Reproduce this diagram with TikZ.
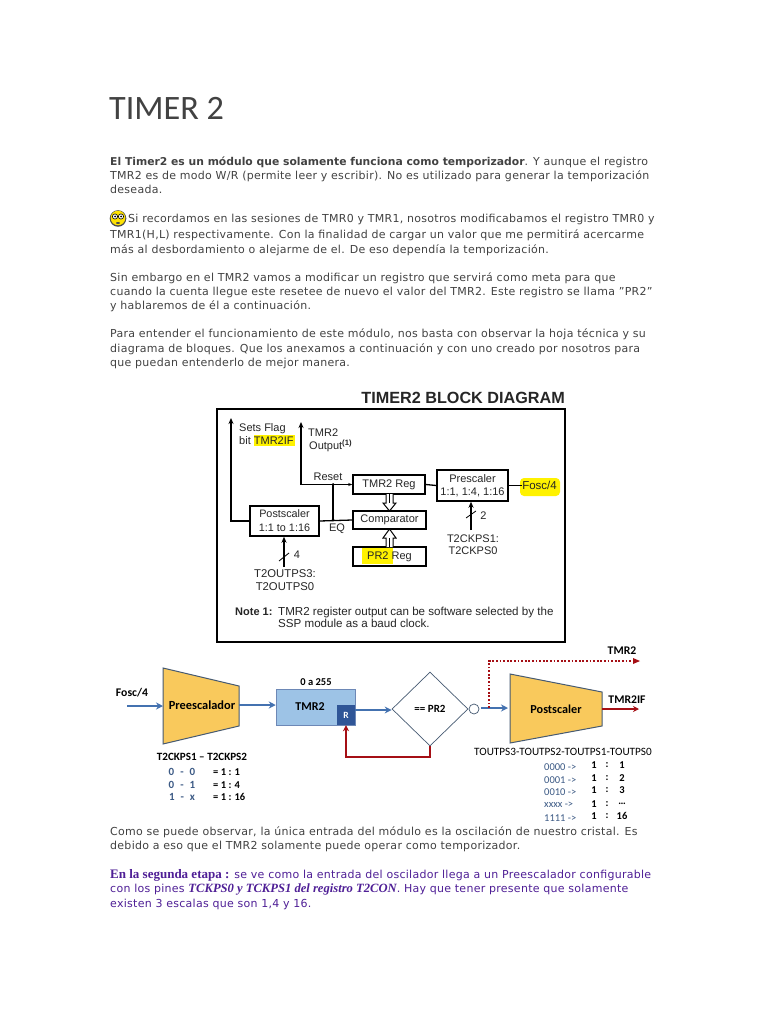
\documentclass[tikz,border=0pt]{standalone}
\usepackage{fontspec}
\setmainfont{DejaVu Sans}[LetterSpace=2.5,BoldFeatures={LetterSpace=0}]
\newfontfamily\headfont{Carlito}
\newfontfamily\dgfont{Liberation Sans}
\newfontfamily\lowfont{Carlito}
\newfontfamily\purpserif{Liberation Serif}
\definecolor{bodyc}{HTML}{424242}
\definecolor{purp}{HTML}{4F1F96}
\definecolor{hl}{HTML}{FFF200}
\definecolor{dgtext}{HTML}{262626}
\definecolor{trapf}{HTML}{F9C95C}
\definecolor{trapd}{HTML}{465A72}
\definecolor{bluea}{HTML}{4472B0}
\definecolor{tmrf}{HTML}{9DC3E6}
\definecolor{rf}{HTML}{2F5597}
\definecolor{redw}{HTML}{A50F15}
\definecolor{valb}{HTML}{3C5A85}
\usetikzlibrary{arrows.meta,shapes.geometric,calc}
\tikzset{
  x=1pt,y=-1pt,
  line/.style={anchor=base west,inner sep=0pt,yshift=-0.8pt,font=\fontsize{11}{12}\selectfont,text=bodyc},
  dg/.style={inner sep=0pt,font=\dgfont\fontsize{11}{12}\selectfont,text=dgtext},
  dgbox/.style={draw=black,line width=1.5pt,inner sep=0pt,font=\dgfont\fontsize{11}{12}\selectfont,text=dgtext,align=center},
  dgwire/.style={draw=black,line width=1.3pt},
  dgarrow/.style={draw=black,line width=1.3pt,-{Stealth[length=6pt,width=5pt]}},
  hollow/.style={draw=black,line width=1pt,fill=white},
  lowt/.style={inner sep=0pt,font=\lowfont\bfseries\fontsize{11.7}{12}\selectfont,text=black},
  vals/.style={inner sep=0pt,font=\lowfont\bfseries\fontsize{11}{12}\selectfont,text=valb},
  ratio/.style={inner sep=0pt,font=\lowfont\bfseries\fontsize{10.5}{12}\selectfont,text=black},
  trap/.style={draw=trapd,line width=1pt,fill=trapf},
  bluearrow/.style={draw=bluea,line width=2.2pt,-{Stealth[length=7pt,width=7pt]}},
  redwire/.style={draw=redw,line width=2pt},
}
\begin{document}
\begin{tikzpicture}
\useasboundingbox (0,0) rectangle (768,1024);
\fill[white] (0,0) rectangle (768,1024);

% --- page text
\node[anchor=base west,inner sep=0pt,font=\headfont\fontsize{34.2}{36}\selectfont,text=bodyc] (title) at (109,120) {TIMER 2};
\node[line] (l1) at (110,165) {{\fontsize{10.78}{12}\selectfont\textbf{El Timer2 es un módulo que solamente funciona como temporizador}}. Y aunque el registro};
\node[line] (l2) at (110,179) {TMR2 es de modo W/R (permite leer y escribir). No es utilizado para generar la temporización};
\node[line] (l3) at (110,193) {deseada.};
\node[line] (l4) at (128,222) {Si recordamos en las sesiones de TMR0 y TMR1, nosotros modificabamos el registro TMR0 y};
\node[line] (l5) at (110,238) {TMR1(H,L) respectivamente. Con la finalidad de cargar un valor que me permitirá acercarme};
\node[line] (l6) at (110,253) {más al desbordamiento o alejarme de el. De eso dependía la temporización.};
\node[line] (l7) at (110,281) {Sin embargo en el TMR2 vamos a modificar un registro que servirá como meta para que};
\node[line] (l8) at (110,295) {cuando la cuenta llegue este resetee de nuevo el valor del TMR2. Este registro se llama "PR2"};
\node[line] (l9) at (110,309) {y hablaremos de él a continuación.};
\node[line] (l10) at (110,337) {Para entender el funcionamiento de este módulo, nos basta con observar la hoja técnica y su};
\node[line] (l11) at (110,352) {diagrama de bloques. Que los anexamos a continuación y con uno creado por nosotros para};
\node[line] (l12) at (110,366) {que puedan entenderlo de mejor manera.};
\node[line] (l13) at (110,835) {Como se puede observar, la única entrada del módulo es la oscilación de nuestro cristal. Es};
\node[line] (l14) at (110,849) {debido a eso que el TMR2 solamente puede operar como temporizador.};
\node[line,text=purp] (l15) at (110,878) {{\purpserif\bfseries\fontsize{13}{12}\selectfont En la segunda etapa :} se ve como la entrada del oscilador llega a un Preescalador configurable};
\node[line,text=purp] (l16) at (110,892) {con los pines {\purpserif\itshape\bfseries\fontsize{12.6}{12}\selectfont TCKPS0 y TCKPS1 del registro T2CON}. Hay que tener presente que solamente};
\node[line,text=purp] (l17) at (110,907) {existen 3 escalas que son 1,4 y 16.};

% --- smiley
\fill[black!70] (118,218.5) circle (8.3pt);
\fill[yellow!85!orange] (118,218) circle (7.3pt);
\fill[white] (115,216.5) circle (2.6pt) (121,216.5) circle (2.6pt);
\draw[black,line width=.6pt] (115,216.5) circle (2.6pt) (121,216.5) circle (2.6pt);
\fill[black] (115,216.5) circle (1pt) (121,216.5) circle (1pt);
\fill[black!70] (118,223) ellipse (2pt and 1pt);

% --- block diagram
\node[anchor=base east,inner sep=0pt,font=\dgfont\bfseries\fontsize{16.2}{17}\selectfont,text=dgtext] (bdtitle) at (565,403.5) {TIMER2 BLOCK DIAGRAM};
\node[draw=black,line width=1.8pt,minimum width=348pt,minimum height=233pt,inner sep=0pt] (frame) at (391,525.5) {};
\fill[hl] (254,435) rectangle (295,446);
\fill[hl] (362,548) rectangle (393,564);
\fill[hl,rounded corners=4pt] (520,478) rectangle (560,496);

\node[dgbox,minimum width=72pt,minimum height=19pt] (tmrreg) at (389,484.5) {TMR2 Reg};
\node[dgbox,minimum width=71pt,minimum height=31pt,font=\dgfont\fontsize{11}{13}\selectfont] (pres) at (472.5,485.5) {Prescaler\\1:1, 1:4, 1:16};
\node[dgbox,minimum width=69pt,minimum height=30pt,font=\dgfont\fontsize{10.8}{14}\selectfont] (posts) at (284.5,521) {Postscaler\\1:1 to 1:16};
\node[dgbox,minimum width=73pt,minimum height=18pt] (comp) at (389.5,520) {Comparator};
\node[draw=black,line width=1.5pt,minimum width=73pt,minimum height=19pt,inner sep=0pt] (prreg) at (389.5,556.5) {};
\node[dg] (prtxt) at (389.5,556.5) {PR2 Reg};

\node[dg,anchor=base west] (setsa) at (239,431) {Sets Flag};
\node[dg,anchor=base west] (setsb) at (239,444) {bit TMR2IF};
\node[dg,anchor=base west] (outa) at (308,436) {TMR2};
\node[dg,anchor=base west] (outb) at (309,449) {Output\textsuperscript{\textbf{(1)}}};
\node[dg] (reset) at (328,477) {Reset};
\node[dg] (eq) at (337,528.5) {EQ};
\node[dg,font=\dgfont\fontsize{11.5}{12}\selectfont] (fosc) at (539.5,485.5) {Fosc/4};
\node[dg] (n2) at (483.5,515.5) {2};
\node[dg] (n4) at (297,554.5) {4};
\node[dg,align=center,font=\dgfont\fontsize{11}{12.5}\selectfont] (ck) at (473,544.5) {T2CKPS1:\\T2CKPS0};
\node[dg,align=center,font=\dgfont\fontsize{11.3}{12.5}\selectfont] (op) at (285,580) {T2OUTPS3:\\T2OUTPS0};
\node[dg,anchor=base west,font=\dgfont\bfseries\fontsize{11}{12}\selectfont] (note) at (235,615) {Note 1:};
\node[dg,anchor=base west,font=\dgfont\fontsize{11.6}{12}\selectfont] (notea) at (278,615) {TMR2 register output can be software selected by the};
\node[dg,anchor=base west,font=\dgfont\fontsize{11.6}{12}\selectfont] (noteb) at (278,627.5) {SSP module as a baud clock.};

\coordinate (flagtop) at (231,418);
\coordinate (outtop) at (301,422);
\draw[dgarrow] (posts.west) -- (posts.west -| flagtop) -- (flagtop);
\draw[dgwire] (comp.west) -- (posts.east);
\coordinate (jb) at (333,520);
\coordinate (jt) at (333,484.5);
\draw[dgwire] (jb) -- (jt);
\fill[black] (jb) circle (1.5pt) (jt) circle (1.5pt);
\draw[dgwire,{Stealth[length=6pt,width=5pt]}-] (outtop) -- (outtop |- jt) -- (jt);
\draw[line width=1pt,-{Stealth[length=4pt,width=3pt]}] (jt) -- (tmrreg.west);
\draw[dgwire] (tmrreg.east) -- (pres.west);
\draw[dgwire] (pres.east) -- (fosc.west);

\coordinate (ckb) at (471,530);
\draw[dgarrow] (ckb) -- (ckb |- pres.south);
\draw[line width=.8pt] (466,518) -- (476,511);
\coordinate (opb) at (284,567);
\draw[dgarrow] (opb) -- (opb |- posts.south);
\draw[line width=.8pt] (279,561) -- (289,553);

% hollow double arrows
\draw[hollow] (386,494) -- (386,503) -- (383,503) -- (389.5,511) -- (396,503) -- (393,503) -- (393,494);
\draw[line width=1pt] (389.5,494) -- (389.5,503);
\draw[hollow] (386,547) -- (386,538) -- (383,538) -- (389.5,529) -- (396,538) -- (393,538) -- (393,547);
\draw[line width=1pt] (389.5,547) -- (389.5,538);

% --- lower diagram
\draw[trap] (163,668) coordinate (ptl) -- (239,686) coordinate (ptr) -- (239,726) coordinate (pbr) -- (163,744) coordinate (pbl) -- cycle;
\node[lowt,font=\lowfont\bfseries\fontsize{12.4}{12}\selectfont] (pretxt) at (202,705) {Preescalador};
\coordinate (prein) at (163,706);
\coordinate (preout) at (239,705);
\node[lowt] (fosclow) at (132,693) {Fosc/4};
\coordinate (foscs) at (127,706);
\draw[bluearrow] (foscs) -- (prein);

\node[draw=rf!70,line width=.5pt,fill=tmrf,minimum width=79pt,minimum height=36pt,inner sep=0pt] (tmr) at (315.5,707) {};
\node[lowt,font=\lowfont\bfseries\fontsize{12}{12}\selectfont] (tmrtxt) at (310,706.5) {TMR2};
\node[fill=rf,minimum width=18pt,minimum height=20pt,inner sep=0pt,text=white,font=\lowfont\bfseries\fontsize{9.5}{12}\selectfont] (rbox) at (346,715) {R};
\node[lowt,font=\lowfont\bfseries\fontsize{10.5}{12}\selectfont] (range) at (316,682.5) {0 a 255};
\draw[bluearrow] (preout) -- (tmr.west |- preout);

\node[diamond,draw=trapd,line width=.7pt,fill=white,minimum width=76pt,minimum height=74pt,inner sep=0pt,font=\lowfont\bfseries\fontsize{11}{12}\selectfont,text=black] (dia) at (430,709) {== PR2};
\coordinate (tmrout) at (355,710);
\draw[bluearrow] (tmrout) -- (dia.west |- tmrout);
\node[circle,draw=trapd,line width=.7pt,fill=white,minimum size=10pt,inner sep=0pt] (inv) at (474,709) {};

\draw[trap] (510,674) coordinate (qtl) -- (602,692) coordinate (qtr) -- (602,726) coordinate (qbr) -- (510,743) coordinate (qbl) -- cycle;
\node[lowt,font=\lowfont\bfseries\fontsize{12.2}{12}\selectfont] (posttxt) at (556,709) {Postscaler};
\coordinate (postin) at (508,708);
\coordinate (invout) at (481,708);
\coordinate (branch) at (489,708);
\draw[bluearrow] (invout) -- (postin);
\coordinate (dottop) at (489,661);
\coordinate (dotend) at (640,661);
\draw[draw=redw,line width=1.8pt,dash pattern=on 1.8pt off 1.8pt] (branch) -- (dottop) -- ($(dotend)+(-5,0)$);
\fill[redw] (dotend) -- ++(-7,-3) -- ++(0,6) -- cycle;
\node[lowt] (tmr2lab) at (622,651) {TMR2};

\coordinate (postout) at (602,709);
\coordinate (ifend) at (639,709);
\draw[redwire,-{Stealth[length=6pt,width=6pt]}] (postout) -- (ifend);
\node[lowt] (iflab) at (627,700) {TMR2IF};

\coordinate (fb) at (430,757);
\draw[redwire,-{Stealth[length=6pt,width=6pt]}] (dia.south) -- (fb) -| (rbox.south);

\node[lowt,font=\lowfont\bfseries\fontsize{11.1}{12}\selectfont] (t2h) at (202,757) {T2CKPS1 – T2CKPS2};
\node[vals] (a1) at (182,772) {0\hspace{6pt}-\hspace{6pt}0};
\node[vals] (a2) at (182,785) {0\hspace{6pt}-\hspace{6pt}1};
\node[vals] (a3) at (182,797) {1\hspace{6pt}-\hspace{6pt}x};
\node[ratio,anchor=west] (b1) at (213,772) {= 1 : 1};
\node[ratio,anchor=west] (b2) at (213,785) {= 1 : 4};
\node[ratio,anchor=west] (b3) at (213,797) {= 1 : 16};

\node[inner sep=0pt,font=\lowfont\fontsize{11.2}{12}\selectfont,text=black] (touts) at (563,752) {TOUTPS3-TOUTPS2-TOUTPS1-TOUTPS0};
\node[vals,font=\lowfont\fontsize{10.5}{12}\selectfont,anchor=west] (c1) at (544,767) {0000 ->};
\node[vals,font=\lowfont\fontsize{10.5}{12}\selectfont,anchor=west] (c2) at (544,780) {0001 ->};
\node[vals,font=\lowfont\fontsize{10.5}{12}\selectfont,anchor=west] (c3) at (544,792) {0010 ->};
\node[vals,font=\lowfont\fontsize{10.5}{12}\selectfont,anchor=west] (c4) at (544,805) {xxxx ->};
\node[vals,font=\lowfont\fontsize{10.5}{12}\selectfont,anchor=west] (c5) at (544,818) {1111 ->};
\foreach \yy/\vv/\nm in {765/1/a,778/2/b,790/3/c,804/\ldots/d,816/16/e}{
  \node[ratio] (r1\nm) at (594,\yy) {1};
  \node[ratio] (r2\nm) at (607,\yy) {:};
  \node[ratio] (r3\nm) at (622,\yy) {\vv};
}
\end{tikzpicture}
\end{document}
